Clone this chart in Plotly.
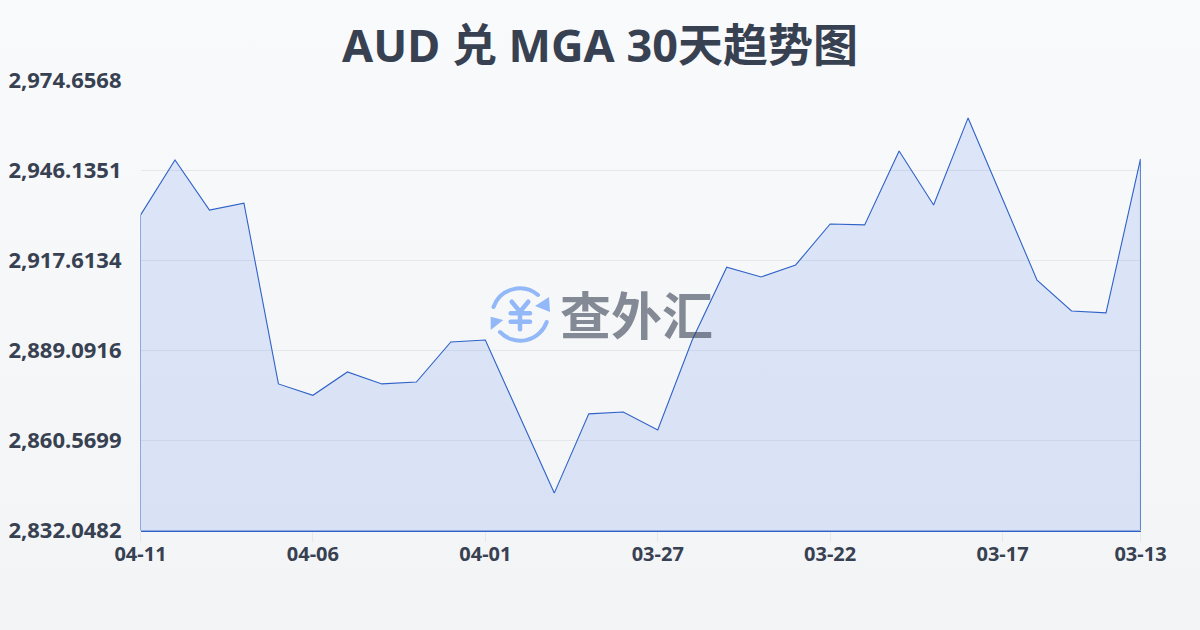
import base64
import plotly.graph_objects as go

# values, newest first like the chart
dates = ["04-11", "04-10", "04-09", "04-08", "04-07", "04-06", "04-05", "04-04", "04-03", "04-02",
         "04-01", "03-31", "03-30", "03-29", "03-28", "03-27", "03-26", "03-25", "03-24", "03-23",
         "03-22", "03-21", "03-20", "03-19", "03-18", "03-17", "03-16", "03-15", "03-14", "03-13"]
rates = [2932.0, 2949.5, 2933.6, 2935.8, 2878.5, 2874.9, 2882.3, 2878.5, 2879.1, 2891.8,
         2892.4, 2868.0, 2843.9, 2869.0, 2869.6, 2863.9, 2892.4, 2915.5, 2912.4, 2916.2,
         2929.2, 2928.9, 2952.3, 2935.2, 2962.8, 2937.1, 2911.4, 2901.6, 2901.0, 2949.8]
y_ticks = [2974.6568, 2946.1351, 2917.6134, 2889.0916, 2860.5699, 2832.0482]
x_ticks = ["04-11", "04-06", "04-01", "03-27", "03-22", "03-17", "03-13"]
title = "AUD 兑 MGA 30天趋势图"
watermark = "查外汇"

FONT = "Noto Sans, Noto Sans CJK SC"
INK = "#374151"
LINE = "#2f62c8"

bg_svg = """<svg xmlns='http://www.w3.org/2000/svg' width='1200' height='630'>
<defs><linearGradient id='g' x1='0' y1='0' x2='0' y2='1'>
<stop offset='0' stop-color='#f9fafc'/><stop offset='1' stop-color='#f3f4f6'/>
</linearGradient></defs><rect width='1200' height='630' fill='url(#g)'/></svg>"""

icon_svg = """<svg xmlns='http://www.w3.org/2000/svg' width='60' height='60' viewBox='0 0 60 60'>
<g fill='none' stroke='#93b8f8' stroke-linecap='round' stroke-linejoin='round'>
<path stroke-width='4' d='M3.5 21 A28 28 0 0 1 48 9'/>
<path stroke-width='4' d='M56.7 36 A28 28 0 0 1 10 46'/>
<path stroke-width='4.5' d='M21.7 15.7 L30 25.7 L38.3 15.7 M30 25.7 V43.3 M20.7 27.3 H40 M20.7 35.7 H40'/>
</g>
<path d='M59 11 L60 26 L45 20 Z M0.7 30.7 L13.3 34 L0.7 44 Z' fill='#93b8f8'/>
</svg>"""


def data_uri(svg):
    return "data:image/svg+xml;base64," + base64.b64encode(svg.encode()).decode()


def px(x):
    # page pixel to paper fraction, plot box is 1001x451 from (140, 80)
    return (x - 140) / 1001


def py(y):
    return (531 - y) / 451


area = go.Scatter(
    x=dates + [dates[-1], dates[0]],
    y=rates + [y_ticks[-1], y_ticks[-1]],
    mode="lines",
    fill="toself",
    fillcolor="rgba(37,99,235,0.13)",
    line=dict(color=LINE, width=1.1),
    hoverinfo="skip",
    cliponaxis=False,
)
# plotly drops the closing segments that run along the plot edge, so draw them apart
edges = go.Scatter(
    x=[dates[0], dates[0], None, dates[-1], dates[-1]],
    y=[rates[0], y_ticks[-1], None, rates[-1], y_ticks[-1]],
    mode="lines",
    line=dict(color=LINE, width=1),
    hoverinfo="skip",
    cliponaxis=False,
)

fig = go.Figure(data=[area, edges])
fig.update_layout(
    width=1200,
    height=630,
    autosize=False,
    showlegend=False,
    paper_bgcolor="#f6f7f9",
    plot_bgcolor="rgba(0,0,0,0)",
    margin=dict(l=140, r=59, t=80, b=99, autoexpand=False),
    font=dict(family=FONT, color=INK),
    title=dict(
        text=title,
        x=0.5,
        xanchor="center",
        y=0.927,
        yanchor="middle",
        font=dict(family=FONT, size=45, weight="bold", color=INK),
    ),
    images=[
        dict(source=data_uri(bg_svg), xref="paper", yref="paper", x=px(0), y=py(0),
             sizex=1200 / 1001, sizey=630 / 451, xanchor="left", yanchor="top", sizing="stretch", layer="below"),
        dict(source=data_uri(icon_svg), xref="paper", yref="paper", x=px(490), y=py(286),
             sizex=60 / 1001, sizey=60 / 451, xanchor="left", yanchor="top", sizing="stretch", layer="above"),
    ],
    annotations=[
        dict(text=watermark, xref="paper", yref="paper", x=px(636), y=py(315),
             showarrow=False, xanchor="center", yanchor="middle",
             font=dict(family=FONT, size=51, weight="bold", color="rgba(55,65,81,0.6)")),
    ],
)
fig.update_xaxes(
    type="category",
    categoryorder="array",
    categoryarray=dates,
    domain=[0.5 / 1001, 1000.5 / 1001],
    range=[0, len(dates) - 1],
    tickmode="array",
    tickvals=x_ticks,
    ticktext=x_ticks,
    ticks="outside",
    ticklen=10,
    tickwidth=1,
    tickcolor="#e5e7eb",
    tickfont=dict(family=FONT, size=20, weight="bold", color=INK),
    ticklabelstandoff=-5,
    showgrid=False,
    showline=True,
    linecolor=LINE,
    linewidth=1,
    zeroline=False,
)
fig.update_yaxes(
    domain=[0.5 / 451, 450.5 / 451],
    range=[y_ticks[-1], y_ticks[0]],
    tickmode="array",
    tickvals=y_ticks,
    ticktext=[f"{v:,.4f}" for v in y_ticks],
    ticks="",
    tickfont=dict(family=FONT, size=22, weight="bold", color=INK),
    ticklabelstandoff=18,
    showgrid=True,
    gridcolor="#e5e7eb",
    gridwidth=1,
    showline=False,
    zeroline=False,
)

# the browser's default body margin would push the chart off by 8px
fig.write_html("out.html", config={"displayModeBar": False},
               post_script="document.body.style.margin='0';")
